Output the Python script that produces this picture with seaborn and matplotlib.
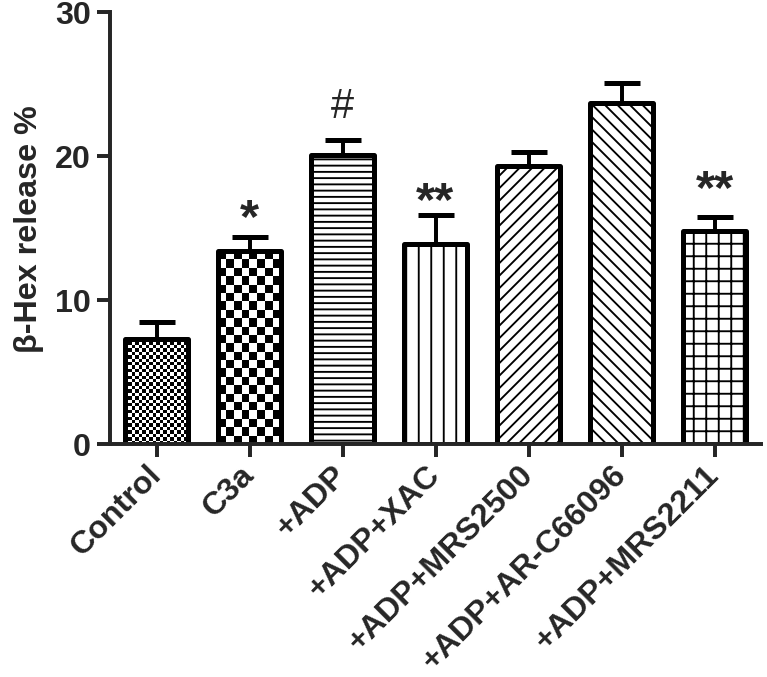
import numpy as np
import matplotlib
matplotlib.use('Agg')
import matplotlib.pyplot as plt
import seaborn as sns

# values
groups = ['Control', 'C3a', '+ADP', '+ADP+XAC', '+ADP+MRS2500', '+ADP+AR-C66096', '+ADP+MRS2211']
means = [7.3, 13.4, 20.1, 13.9, 19.3, 23.7, 14.8]
sems = [1.2, 1.0, 1.0, 2.0, 1.0, 1.35, 0.95]
marks = ['', '*', '#', '**', '', '', '**']
hatches = ['checker_fine', 'checker', '--', '|', '//', '\\\\', '+']

DPI = 75
FIG_W, FIG_H = 767, 678
POS = [110 / FIG_W, 233 / FIG_H, 651 / FIG_W, 432 / FIG_H]
FS = 31

sns.set_style('ticks')
plt.rcParams['font.family'] = ['Liberation Sans', 'DejaVu Sans']
plt.rcParams['hatch.linewidth'] = 1.8

fig = plt.figure(figsize=(FIG_W / DPI, FIG_H / DPI), dpi=DPI)
ax = fig.add_axes(POS)

sns.barplot(x=groups, y=means, color='white', saturation=1, edgecolor='black',
            linewidth=4.8, width=0.67, errorbar=None, ax=ax)

# one-sided error bars (mean + SEM)
ax.errorbar(np.arange(len(groups)), means, yerr=[np.zeros(len(means)), sems],
            fmt='none', ecolor='black', elinewidth=3.8, capsize=17, capthick=4.8, zorder=3)

px_x = FIG_W * POS[2] / len(groups)
px_y = FIG_H * POS[3] / 30

for bar, h in zip(ax.patches, hatches):
    bar.set_joinstyle('round')
    bar.set_zorder(2)
    if h.startswith('checker'):
        cell = 3.4 if h == 'checker_fine' else 8.3
        x0, w, bh = bar.get_x(), bar.get_width(), bar.get_height()
        nx = max(1, int(round(w * px_x / cell)))
        ny = max(1, int(round(bh * px_y / cell)))
        board = np.add.outer(np.arange(ny), np.arange(nx)) % 2
        im = ax.imshow(board, cmap='gray', extent=[x0, x0 + w, 0, bh], origin='lower',
                       interpolation='nearest', aspect='auto', zorder=1)
        im.set_clip_path(bar)
        bar.set_facecolor('none')
    else:
        bar.set_hatch(h)

ax.set_xlim(-0.5, len(groups) - 0.5)
ax.set_ylim(0, 30)
ax.set_yticks([0, 10, 20, 30])

# significance marks, baseline heights in data units
mark_y = [None, 14.8, 22.7, 16.0, None, None, 16.8]
for i, (t, yb) in enumerate(zip(marks, mark_y)):
    if not t:
        continue
    if t == '#':
        ax.text(i, yb, t, ha='center', va='baseline', fontsize=40, fontweight='normal')
    else:
        ax.text(i, yb, t, ha='center', va='baseline', fontsize=47, fontweight='bold')

sns.despine(ax=ax)
for sp in ['left', 'bottom']:
    ax.spines[sp].set_linewidth(3.8)
ax.tick_params(axis='both', width=3.8, length=12.5, labelsize=FS)
ax.tick_params(axis='y', pad=6)
ax.tick_params(axis='x', pad=12)
ax.set_xticks(range(len(groups)))
ax.set_xticklabels(groups, rotation=45, ha='right', va='center', rotation_mode='anchor',
                   fontweight='bold', fontsize=31)
for lab in ax.get_yticklabels():
    lab.set_fontweight('bold')
ax.set_ylabel('β-Hex release %', fontsize=FS, fontweight='bold', labelpad=10)
ax.set_xlabel('')

fig.savefig('out.png', dpi=DPI)
